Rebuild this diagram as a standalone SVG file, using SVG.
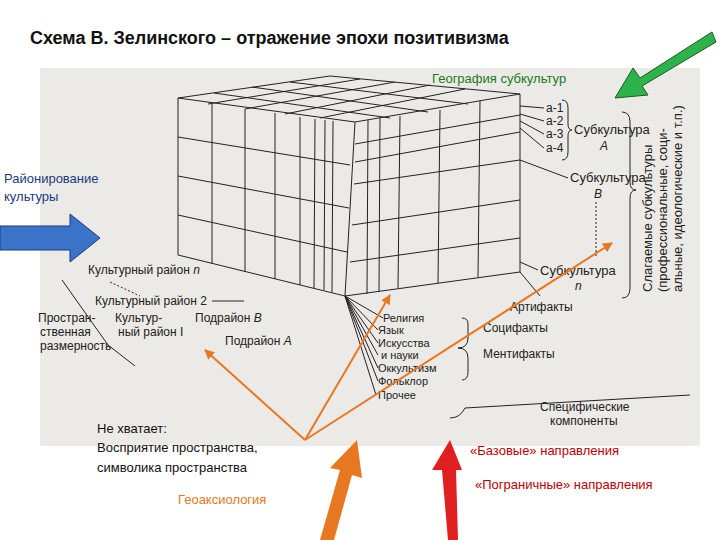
<svg xmlns="http://www.w3.org/2000/svg" width="720" height="540" viewBox="0 0 720 540">
<style>
.t{font-family:"Liberation Sans",Arial,sans-serif}
.c{stroke:#222;stroke-width:1;fill:none}
.k{font-family:"Liberation Sans Narrow","Liberation Sans",sans-serif;font-size:12px;fill:#222}
.o{stroke:#e87722;stroke-width:2;fill:none}
</style>
<defs>
<marker id="oa" markerWidth="10" markerHeight="10" refX="9" refY="5" orient="auto" markerUnits="userSpaceOnUse"><path d="M0,0L10,5L0,10z" fill="#e87722"/></marker>
</defs>
<rect width="720" height="540" fill="#fff"/>
<rect x="40" y="68" width="660" height="378" fill="#eceae6"/>
<text x="30" y="44" class="t" font-size="18" font-weight="bold" fill="#111">Схема В. Зелинского – отражение эпохи позитивизма</text>
<g id="cube">
<path class="c" d="M178,98L330,76L520,94L355,122Z M178,98L178,255L345,296L355,122 M345,296L520,272L520,94"/>
<path class="c" d="M178,137L350,165 M178,176L349,208 M178,215L347,252 M214,93L390,118 M252,87L428,112 M290,82L468,104 M360,79L208,104 M395,82L245,109 M430,85L285,114 M465,89L320,118"/>
<path class="c" d="M212,104L212,264 M245,109L245,272 M275,113L275,279 M300,117L300,285 M315,119L314,288 M325,120L324,290 M333,121L332,292"/>
<path class="c" d="M355,144L520,115 M355,162L520,132 M354,184L520,160 M352,225L520,200 M350,262L520,238 M400,116L398,288 M440,110L438,283 M480,101L478,277 M368,120L367,294 M380,118L379,292"/>
<path class="c" d="M520,106L544,108 M520,114L544,121 M520,121L544,134 M520,128L544,148 M520,160L568,178 M520,262L538,270 M520,272L540,296"/>
<path class="c" d="M345,296L383,318 M345,296L378,330 M345,296L378,343 M345,296L378,355 M345,296L378,368 M345,296L378,381 M345,296L376,395"/>
</g>
<g id="labels" class="k">
<text x="546" y="112">а-1</text><text x="546" y="125">а-2</text><text x="546" y="138">а-3</text><text x="546" y="152">а-4</text>
<path class="c" d="M562,100q6,0 6,8v16q0,6 4,6q-4,0 -4,6v16q0,8 -6,8"/>
<text x="574" y="134" font-size="13">Субкультура</text><text x="600" y="150" font-style="italic">А</text>
<text x="570" y="182" font-size="13">Субкультура</text><text x="594" y="198" font-style="italic">В</text>
<path d="M596,202L596,256" stroke="#222" stroke-dasharray="2,2"/>
<text x="540" y="275" font-size="13">Субкультура</text><text x="575" y="290" font-style="italic">n</text>
<path class="c" d="M622,112q8,0 8,10v60q0,8 6,8q-6,0 -6,8v90q0,10 -8,10"/>
<text transform="translate(652,292)rotate(-90)" font-size="13">Слагаемые субкультуры</text>
<text transform="translate(667,292)rotate(-90)" font-size="13">(профессиональные, соци-</text>
<text transform="translate(682,292)rotate(-90)" font-size="13">альные, идеологические и т.п.)</text>
<text x="510" y="311">Артифакты</text>
<text x="483" y="332">Социфакты</text>
<text x="483" y="358">Ментифакты</text>
<text x="540" y="411">Специфические</text><text x="550" y="425">компоненты</text>
<path class="c" d="M450,418q10,0 15,-10L690,395 M458,348q10,0 10,-10v-14q0,-6 -6,-6 M458,348q10,0 10,10v14q0,8 -6,8"/>
<g font-size="11"><text x="383" y="322">Религия</text><text x="378" y="334">Язык</text><text x="378" y="347">Искусства</text><text x="381" y="359">и науки</text><text x="378" y="372">Оккультизм</text><text x="378" y="385">Фольклор</text><text x="378" y="399">Прочее</text></g>
<text x="88" y="274">Культурный район <tspan font-style="italic">n</tspan></text>
<path d="M110,282L140,296" stroke="#222" stroke-dasharray="2,2"/>
<text x="95" y="305">Культурный район 2</text><path class="c" d="M212,301L244,301"/>
<text x="115" y="322">Культур-</text><text x="118" y="336">ный район I</text>
<text x="195" y="322">Подрайон <tspan font-style="italic">В</tspan></text>
<text x="225" y="345">Подрайон <tspan font-style="italic">А</tspan></text>
<text x="38" y="322">Простран-</text><text x="40" y="336">ственная</text><text x="40" y="350">размерность</text>
<path class="c" d="M62,280L108,345L135,366"/>
</g>
<g id="annot" class="t" font-size="13">
<text x="432" y="83" fill="#1a7a1a">География субкультур</text>
<text x="4" y="183" fill="#1a3a80">Районирование</text><text x="4" y="201" fill="#1a3a80">культуры</text>
<text x="97" y="433" fill="#111">Не хватает:</text>
<text x="97" y="452" fill="#111">Восприятие пространства,</text>
<text x="97" y="472" fill="#111">символика пространства</text>
<text x="178" y="504" fill="#e87722">Геоаксиология</text>
<text x="470" y="455" fill="#c00000">«Базовые» направления</text>
<text x="475" y="489" fill="#c00000">«Пограничные» направления</text>
</g>
<g id="connectors">
<path class="o" marker-end="url(#oa)" d="M305,440L205,350"/>
<path class="o" marker-end="url(#oa)" d="M305,440L390,295"/>
<path class="o" marker-end="url(#oa)" d="M305,440L612,243"/>
<path d="M320,540L340,470L330,468L357,440L362,478L352,475L334,540Z" fill="#e87722"/>
<path d="M448,540L442,470L432,470L450,440L462,470L456,470L458,540Z" fill="#e02020"/>
<path d="M712,32L640,78L633,68L615,98L648,95L642,86L716,42Z" fill="#2db34a" stroke="#1a5a2a"/>
<path d="M0,226L70,226L70,214L100,238L70,262L70,250L0,250Z" fill="#3a73c8" stroke="#1a3a80"/>
</g>
</svg>
